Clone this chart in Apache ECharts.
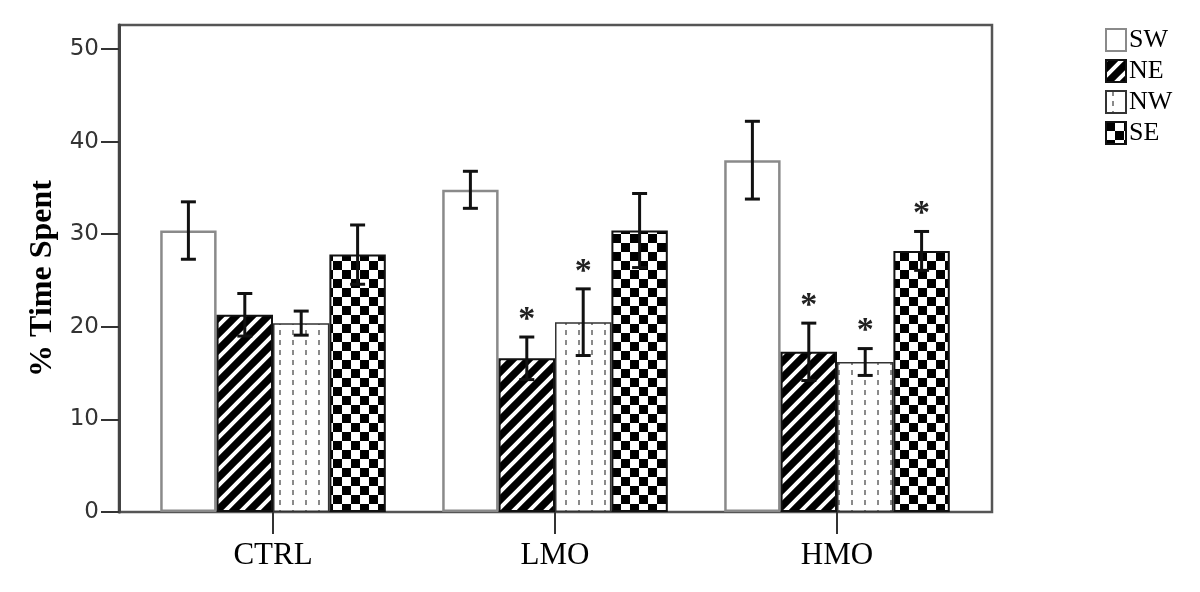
<!DOCTYPE html>
<html>
<head>
<meta charset="utf-8">
<script src="https://cdn.jsdelivr.net/npm/echarts@6/dist/echarts.min.js"></script>
<style>html,body{margin:0;padding:0;background:#fff}#c{width:1200px;height:592px}</style>
</head>
<body>
<div id="c"></div>
<script>
// ---- data ----
const categories = ['CTRL', 'LMO', 'HMO'];
const seriesNames = ['SW', 'NE', 'NW', 'SE'];
const swValues = [30.4, 34.8, 38.0];
const neValues = [21.3, 16.6, 17.3];
const nwValues = [20.4, 20.5, 16.2];
const seValues = [27.8, 30.4, 28.2];
const swErr = [3.1, 2.0, 4.2];
const neErr = [2.3, 2.3, 3.1];
const nwErr = [1.3, 3.6, 1.45];
const seErr = [3.2, 4.0, 2.1];
const swStar = [0, 0, 0];
const neStar = [0, 1, 1];
const nwStar = [0, 1, 1];
const seStar = [0, 0, 1];
const yTicks = [0, 10, 20, 30, 40, 50];

// ---- patterns ----
function makeCanvas(w, h, draw) {
  const c = document.createElement('canvas');
  c.width = w; c.height = h;
  draw(c.getContext('2d'), w, h);
  return c;
}
const stripes = makeCanvas(16, 16, (ctx, s) => {
  ctx.fillStyle = '#000'; ctx.fillRect(0, 0, s, s);
  ctx.strokeStyle = '#fff'; ctx.lineWidth = 4;
  ctx.beginPath();
  ctx.moveTo(0, s); ctx.lineTo(s, 0);
  ctx.moveTo(-3, 3); ctx.lineTo(3, -3);
  ctx.moveTo(s - 3, s + 3); ctx.lineTo(s + 3, s - 3);
  ctx.stroke();
});
const dots = makeCanvas(13, 10, (ctx, w, h) => {
  ctx.fillStyle = '#fff'; ctx.fillRect(0, 0, w, h);
  ctx.fillStyle = '#8a8a8a'; ctx.fillRect(6, 0, 2, 5);
});
const checker = makeCanvas(18, 18, (ctx, s) => {
  ctx.fillStyle = '#fff'; ctx.fillRect(0, 0, s, s);
  ctx.fillStyle = '#000'; ctx.fillRect(0, 0, 9, 9); ctx.fillRect(9, 9, 9, 9);
});

const valuesList = [swValues, neValues, nwValues, seValues];
const errList = [swErr, neErr, nwErr, seErr];
const starList = [swStar, neStar, nwStar, seStar];
const styles = [
  { color: '#ffffff', borderColor: '#8a8a8a', borderWidth: 2.5 },
  { color: { image: stripes, repeat: 'repeat' }, borderColor: '#111', borderWidth: 2 },
  { color: { image: dots, repeat: 'repeat' }, borderColor: '#333', borderWidth: 1.5 },
  { color: { image: checker, repeat: 'repeat' }, borderColor: '#111', borderWidth: 2 }
];

const series = [];
seriesNames.forEach((name, k) => {
  series.push({
    name: name, type: 'bar', xAxisIndex: 0, yAxisIndex: 0,
    barGap: 0, barCategoryGap: '20%',
    itemStyle: styles[k],
    data: valuesList[k]
  });
});
seriesNames.forEach((name, k) => {
  series.push({
    type: 'custom', xAxisIndex: 0, yAxisIndex: 0, z: 5,
    data: categories.map((c, i) => [i, valuesList[k][i], errList[k][i], starList[k][i]]),
    encode: { x: 0, y: 1 },
    renderItem: function (params, api) {
      const ci = api.value(0), v = api.value(1), e = api.value(2), st = api.value(3);
      const bandW = api.size([1, 0])[0];
      const bw = bandW * 0.8 / 4;
      const cx = api.coord([ci, v])[0] + (k - 1.5) * bw;
      const yT = api.coord([ci, v + e])[1];
      const yB = api.coord([ci, v - e])[1];
      const cap = 7.5;
      const ls = { stroke: '#111', lineWidth: 3 };
      const children = [
        { type: 'line', shape: { x1: cx, y1: yT, x2: cx, y2: yB }, style: ls },
        { type: 'line', shape: { x1: cx - cap, y1: yT, x2: cx + cap, y2: yT }, style: ls },
        { type: 'line', shape: { x1: cx - cap, y1: yB, x2: cx + cap, y2: yB }, style: ls }
      ];
      if (st) {
        children.push({
          type: 'text',
          style: { text: '*', x: cx, y: yT - 17, align: 'center', verticalAlign: 'middle',
                   font: 'bold 34px "Liberation Serif", serif', fill: '#222' }
        });
      }
      return { type: 'group', children: children };
    }
  });
});

const chart = echarts.init(document.getElementById('c'), null, { renderer: 'canvas' });
chart.setOption({
  animation: false,
  backgroundColor: '#fff',
  legend: {
    data: seriesNames, orient: 'vertical', left: 1100, top: 22,
    icon: 'rect', itemWidth: 20, itemHeight: 22, itemGap: 5,
    textStyle: { fontFamily: '"Liberation Serif", serif', fontSize: 26, color: '#000', padding: [0, 0, 0, -2] }
  },
  grid: [
    { left: 132, right: 222, top: 25, bottom: 80, containLabel: false },
    { left: 119, right: 208, top: 25, bottom: 80, show: true, borderColor: '#555', borderWidth: 2.5, backgroundColor: 'transparent' }
  ],
  xAxis: [{
    type: 'category', gridIndex: 0, data: categories,
    axisLine: { show: false },
    axisTick: { show: true, alignWithLabel: true, length: 22, lineStyle: { color: '#333', width: 2 } },
    axisLabel: { margin: 28, fontFamily: '"Liberation Serif", serif', fontSize: 31, color: '#000' }
  }],
  yAxis: [{
    type: 'value', gridIndex: 0, min: 0, max: 52.6, interval: 10, offset: 13,
    name: '% Time Spent', nameLocation: 'middle', nameGap: 56,
    nameTextStyle: { fontFamily: '"Liberation Serif", serif', fontWeight: 'bold', fontSize: 32, color: '#000', padding: [0, 20, 0, 0] },
    axisLine: { show: true, lineStyle: { color: '#444', width: 3 } },
    axisTick: { show: true, length: 18, customValues: yTicks, lineStyle: { color: '#333', width: 2 } },
    axisLabel: { margin: 20, customValues: yTicks, fontFamily: '"DejaVu Sans", sans-serif', fontSize: 23, color: '#333' },
    splitLine: { show: false }
  }],
  series: series
});
</script>
</body>
</html>
